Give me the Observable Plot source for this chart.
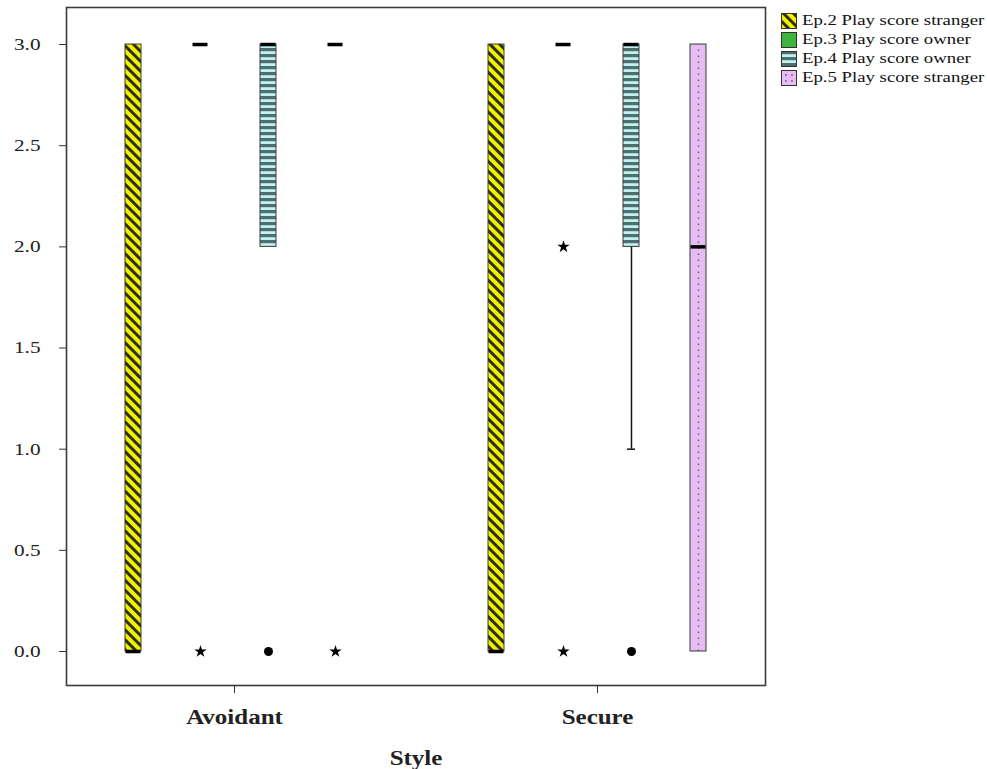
<!DOCTYPE html>
<html><head><meta charset="utf-8">
<script src="https://cdn.jsdelivr.net/npm/d3@7"></script>
<script src="https://cdn.jsdelivr.net/npm/@observablehq/plot@0.6"></script>
<style>
body{margin:0;background:#fff;}
#wrap{position:relative;width:987px;height:769px;}
#legend{position:absolute;left:781px;top:11px;font-family:"Liberation Serif",serif;font-size:15px;color:#111;}
.row{display:flex;align-items:center;height:19px;}
.row svg{margin-right:5px;flex:none}
.row span{display:inline-block;transform:scaleX(1.25);transform-origin:left center;white-space:nowrap}
</style></head><body>
<svg width="0" height="0" style="position:absolute">
<defs>
<pattern id="pat2" patternUnits="userSpaceOnUse" width="7" height="7" patternTransform="rotate(-45)">
<rect width="7" height="7" fill="#f2f200"/><rect width="3" height="7" fill="#2e2e12"/>
</pattern>
<pattern id="pat4" patternUnits="userSpaceOnUse" width="6" height="6">
<rect width="6" height="6" fill="#bff2f2"/><rect width="6" height="3.2" fill="#506e6e"/>
</pattern>
</defs>
</svg>
<div id="wrap"><div id="legend"></div></div>
<script>
const styles = ["Avoidant", "Secure"];
const seriesNames = ["Ep.2 Play score stranger", "Ep.3 Play score owner", "Ep.4 Play score owner", "Ep.5 Play score stranger"];
const seriesFills = ["url(#pat2)", "#3db53d", "url(#pat4)", "#e6bdf2"];

const boxStyle = ["Avoidant", "Avoidant", "Avoidant", "Avoidant", "Secure", "Secure", "Secure", "Secure"];
const boxSeries = [0, 1, 2, 3, 0, 1, 2, 3];
const q1Values = [0, 3, 2, 3, 0, 3, 2, 0];
const medianValues = [0, 3, 3, 3, 0, 3, 3, 2];
const q3Values = [3, 3, 3, 3, 3, 3, 3, 3];
const whiskerLow = [0, 3, 2, 3, 0, 3, 1, 0];

const outlierStyle = ["Avoidant", "Secure"];
const outlierSeries = [2, 2];
const outlierValue = [0, 0];

const extremeStyle = ["Avoidant", "Avoidant", "Secure", "Secure"];
const extremeSeries = [1, 3, 1, 1];
const extremeValue = [0, 0, 2, 0];

const yTicks = [0, 0.5, 1, 1.5, 2, 2.5, 3];

const boxes = boxStyle.map((s, i) => ({style: s, series: boxSeries[i], q1: q1Values[i], median: medianValues[i], q3: q3Values[i], low: whiskerLow[i]}));
const outliers = outlierStyle.map((s, i) => ({style: s, series: outlierSeries[i], value: outlierValue[i]}));
const extremes = extremeStyle.map((s, i) => ({style: s, series: extremeSeries[i], value: extremeValue[i]}));

const offsets = [-101, -34, 34, 101];
const marks = [];
seriesNames.forEach((name, k) => {
  const dx = offsets[k];
  const b = boxes.filter(d => d.series === k);
  const w = b.filter(d => d.low < d.q1);
  const open = b.filter(d => d.q3 > d.q1);
  marks.push(Plot.ruleX(w, {x: "style", y1: "low", y2: "q1", dx, stroke: "#111", strokeWidth: 1.5}));
  marks.push(Plot.tickY(w, {x: "style", y: "low", dx, insetLeft: 164, insetRight: 164, stroke: "#111", strokeWidth: 1.5}));
  marks.push(Plot.barY(open, {x: "style", y1: "q1", y2: "q3", dx, insetLeft: 160, insetRight: 160, fill: seriesFills[k], stroke: "#3a3a3a", strokeWidth: 1}));
  if (k === 3) marks.push(Plot.ruleX(open, {x: "style", y1: "q1", y2: "q3", dx, stroke: "#6e5e76", strokeWidth: 1.5, strokeDasharray: "1.5,4.5"}));
  marks.push(Plot.tickY(b, {x: "style", y: "median", dx, insetLeft: 160.5, insetRight: 160.5, stroke: "#000", strokeWidth: 3.5}));
  marks.push(Plot.dot(outliers.filter(d => d.series === k), {x: "style", y: "value", dx, r: 4.5, fill: "#000", stroke: "none"}));
  marks.push(Plot.dot(extremes.filter(d => d.series === k), {x: "style", y: "value", dx, r: 3.9, symbol: "star", fill: "#000", stroke: "none"}));
});

const svg = Plot.plot({
  width: 987, height: 769,
  marginTop: 7, marginBottom: 84, marginLeft: 66, marginRight: 222,
  style: {fontFamily: "Liberation Serif, serif", background: "#fff", color: "#222"},
  x: {domain: styles, paddingInner: 0.0744, paddingOuter: 0},
  y: {domain: [-0.168, 3.183]},
  marks: [
    Plot.frame({stroke: "#3a3a3a", strokeWidth: 1.6}),
    Plot.axisY({ticks: yTicks, tickFormat: d3.format(".1f"), tickSize: 7, tickPadding: 19, fontSize: 17, label: null, stroke: "#333"}),
    Plot.axisX({tickSize: 8, tickPadding: 16, fontSize: 20, fontWeight: "bold", label: "Style", labelAnchor: "center", labelOffset: 79, stroke: "#333"}),
    ...marks
  ]
});
document.getElementById("wrap").prepend(svg);
svg.style.display = "block";

// horizontal stretch of text, as in the reference
svg.querySelectorAll("text").forEach(t => {
  const x = parseFloat(t.getAttribute("x") || 0) || 0;
  const prev = t.getAttribute("transform") || "";
  t.setAttribute("transform", `${prev} translate(${x},0) scale(1.25,1) translate(${-x},0)`);
});

// legend
const legend = document.getElementById("legend");
seriesNames.forEach((name, k) => {
  const row = document.createElement("div");
  row.className = "row";
  let extra = "";
  if (k === 3) extra = `<circle cx="5" cy="5" r="0.9" fill="#6e5e76"/><circle cx="5" cy="11" r="0.9" fill="#6e5e76"/><circle cx="11" cy="5" r="0.9" fill="#6e5e76"/><circle cx="11" cy="11" r="0.9" fill="#6e5e76"/>`;
  row.innerHTML = `<svg width="16" height="16"><rect x="0.5" y="0.5" width="15" height="15" fill="${seriesFills[k]}" stroke="#333"/>${extra}</svg><span>${name}</span>`;
  legend.appendChild(row);
});
</script>
</body></html>
